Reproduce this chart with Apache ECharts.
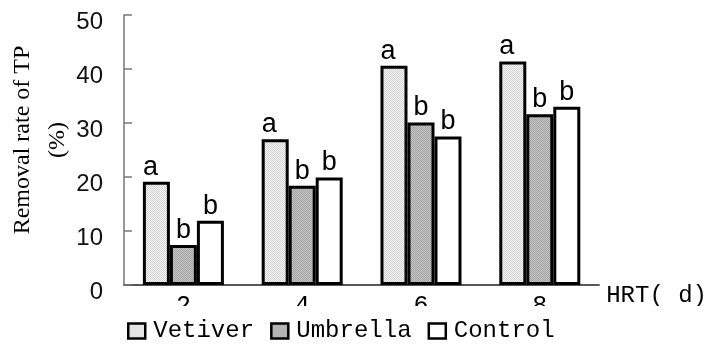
<!DOCTYPE html>
<html>
<head>
<meta charset="utf-8">
<script src="https://cdn.jsdelivr.net/npm/echarts@6/dist/echarts.min.js"></script>
<style>
  html, body { margin: 0; padding: 0; background: #fff; }
  #chart { width: 710px; height: 351px; }
</style>
</head>
<body>
<div id="chart"></div>
<script>
// Hydraulic retention time (days)
const hrtDays = ['2', '4', '6', '8'];
// TP removal rate (%) per treatment
const vetiver = [19.1, 27.0, 40.6, 41.4];
const umbrella = [7.4, 18.4, 30.1, 31.6];
const control = [11.9, 19.9, 27.5, 33.0];
// Significance letters shown above each bar
const vetiverSig = ['a', 'a', 'a', 'a'];
const umbrellaSig = ['b', 'b', 'b', 'b'];
const controlSig = ['b', 'b', 'b', 'b'];
const yTicks = [0, 10, 20, 30, 40, 50];

// Fine stippled fill built from a 1px checkerboard
function stipple(c1, c2) {
  const cv = document.createElement('canvas');
  cv.width = 2; cv.height = 2;
  const ctx = cv.getContext('2d');
  ctx.fillStyle = c1; ctx.fillRect(0, 0, 2, 2);
  ctx.fillStyle = c2; ctx.fillRect(0, 0, 1, 1); ctx.fillRect(1, 1, 1, 1);
  return { image: cv, repeat: 'repeat' };
}

const monoFont = '"Liberation Mono", "DejaVu Sans Mono", monospace';
const sansFont = '"Liberation Sans", Arial, sans-serif';

function withSig(values, letters) {
  return values.map((v, i) => ({ value: v, sig: letters[i] }));
}

function barSeries(name, values, letters, fill, labelShift) {
  return {
    name: name,
    type: 'bar',
    barWidth: 27,
    barGap: '0%',
    data: withSig(values, letters),
    itemStyle: { color: fill, borderColor: '#000', borderWidth: 3 },
    label: {
      show: true,
      position: 'top',
      distance: 1,
      offset: [labelShift, 0],
      formatter: p => p.data.sig,
      fontFamily: sansFont,
      fontSize: 27,
      color: '#000'
    }
  };
}

const chart = echarts.init(document.getElementById('chart'), null, { renderer: 'canvas' });
chart.setOption({
  backgroundColor: '#fff',
  animation: false,
  grid: { left: 124, right: 110, top: 15, bottom: 66 },
  xAxis: {
    type: 'category',
    data: hrtDays,
    name: 'HRT( d)',
    nameLocation: 'end',
    nameGap: 7,
    nameTextStyle: {
      fontFamily: monoFont, fontSize: 24, color: '#000',
      verticalAlign: 'top', lineHeight: 22
    },
    axisLine: { lineStyle: { color: '#222', width: 1.5 } },
    axisTick: { show: false },
    axisLabel: { fontFamily: monoFont, fontSize: 25, color: '#000', margin: 9 }
  },
  yAxis: {
    type: 'value',
    min: yTicks[0],
    max: yTicks[yTicks.length - 1],
    interval: 10,
    splitLine: { show: false },
    axisLine: { show: true, lineStyle: { color: '#777', width: 1.5 } },
    axisTick: { show: true, inside: true, length: 8, lineStyle: { color: '#777', width: 1.5 } },
    axisLabel: {
      fontFamily: sansFont, fontSize: 24, color: '#111', margin: 21,
      verticalAlign: 'top', lineHeight: 14
    }
  },
  legend: {
    left: 127,
    top: 319,
    padding: 0,
    z: 100,
    itemWidth: 17,
    itemHeight: 15,
    itemGap: 16,
    icon: 'rect',
    itemStyle: { borderColor: '#000', borderWidth: 2.5 },
    textStyle: { fontFamily: monoFont, fontSize: 24, color: '#000', padding: [0, 0, 0, 3] },
    data: ['Vetiver', 'Umbrella', 'Control']
  },
  graphic: [
    {
      type: 'rect',
      z: 50,
      shape: { x: 0, y: 306, width: 710, height: 45 },
      style: { fill: '#fff' }
    },
    {
      type: 'text',
      x: 40,
      y: 140,
      rotation: Math.PI / 2,
      style: {
        text: 'Removal rate of TP\n(%)',
        fontFamily: '"Liberation Serif", "Times New Roman", serif',
        fontSize: 24,
        lineHeight: 35,
        fill: '#000',
        align: 'center',
        verticalAlign: 'middle'
      }
    }
  ],
  series: [
    barSeries('Vetiver', vetiver, vetiverSig, stipple('#f6f6f6', '#d2d2d2'), -6),
    barSeries('Umbrella', umbrella, umbrellaSig, stipple('#c6c6c6', '#a2a2a2'), 0),
    barSeries('Control', control, controlSig, '#fff', 0)
  ]
});
</script>
</body>
</html>
